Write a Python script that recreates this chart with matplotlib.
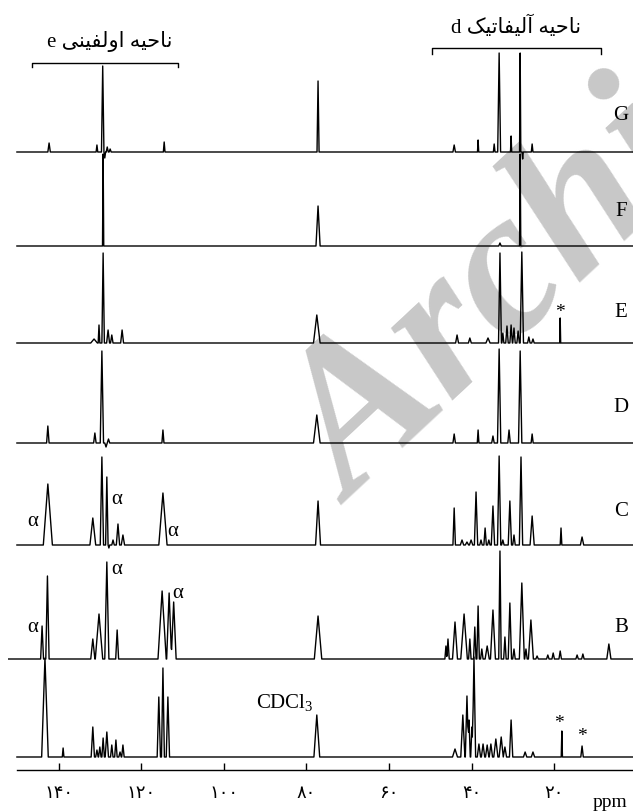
import numpy as np
import matplotlib
matplotlib.use("Agg")
import matplotlib.pyplot as plt

plt.rcParams["font.family"] = ["Liberation Serif", "DejaVu Sans"]
plt.rcParams["mathtext.fontset"] = "custom"
plt.rcParams["mathtext.rm"] = "Liberation Serif"

# --- spectra: peak position (ppm), height, half width (ppm) ---
A_ppm = [143.4, 139.0, 131.8, 130.8, 130.1, 129.3, 128.4, 127.2, 126.2, 125.2, 124.5,
         115.8, 114.8, 113.6, 77.5, 44.0, 42.1, 41.1, 40.6, 39.9, 39.4, 38.2, 37.2,
         36.2, 35.3, 34.1, 32.8, 31.9, 30.4, 27.0, 25.1, 18.1, 13.2]
A_h = [99, 9, 30, 7, 10, 19, 25, 12, 17, 5, 12, 60, 89, 60, 42, 8, 42, 61, 37, 30, 100,
       13, 13, 12, 13, 18, 20, 10, 37, 5, 5, 26, 11]
A_w = [0.8, 0.2, 0.4, 0.3, 0.3, 0.3, 0.4, 0.3, 0.3, 0.3, 0.3, 0.4, 0.35, 0.4, 0.7, 0.6,
       0.5, 0.4, 0.3, 0.3, 0.4, 0.4, 0.4, 0.4, 0.4, 0.5, 0.5, 0.4, 0.4, 0.4, 0.4, 0.15, 0.3]

B_ppm = [144.1, 142.8, 131.8, 130.3, 128.4, 125.9, 115.0, 113.3, 112.2, 77.2, 46.2, 45.7,
         44.0, 41.8, 40.4, 39.2, 38.4, 37.5, 36.2, 34.8, 33.1, 31.9, 30.7, 29.7, 27.8,
         26.8, 25.6, 24.1, 21.5, 20.2, 18.5, 14.4, 13.0, 6.7]
B_h = [33, 83, 20, 45, 97, 29, 68, 66, 57, 43, 13, 20, 37, 45, 20, 32, 53, 10, 13, 49,
       108, 22, 56, 10, 76, 10, 39, 3, 4, 6, 8, 4, 5, 15]
B_w = [0.35, 0.4, 0.5, 0.9, 0.5, 0.35, 1.0, 0.6, 0.6, 0.9, 0.25, 0.3, 0.6, 0.8, 0.3, 0.3,
       0.3, 0.3, 0.5, 0.6, 0.3, 0.3, 0.4, 0.3, 0.6, 0.3, 0.6, 0.3, 0.3, 0.3, 0.3, 0.3, 0.3, 0.5]

C_ppm = [142.7, 131.8, 129.6, 128.4, 127.9, 126.9, 125.7, 124.5, 114.8, 77.2, 44.2, 42.3,
         41.1, 40.1, 38.9, 37.7, 36.7, 35.8, 34.8, 33.3, 32.4, 30.7, 29.7, 28.0, 25.3,
         18.3, 13.2]
C_h = [61, 27, 88, 68, -3, 5, 21, 10, 52, 44, 37, 5, 3, 5, 53, 5, 17, 5, 39, 89, 5, 44,
       10, 88, 29, 17, 8]
C_w = [1.1, 0.7, 0.4, 0.3, 0.2, 0.3, 0.4, 0.4, 1.0, 0.6, 0.3, 0.4, 0.4, 0.4, 0.4, 0.3,
       0.3, 0.3, 0.4, 0.4, 0.3, 0.4, 0.3, 0.4, 0.5, 0.2, 0.4]

D_ppm = [142.7, 131.3, 129.6, 128.6, 128.0, 114.8, 77.5, 44.2, 38.4, 34.8, 33.3, 30.9, 28.2, 25.3]
D_h = [17, 10, 92, -4, 4, 13, 28, 9, 13, 7, 94, 13, 92, 9]
D_w = [0.3, 0.3, 0.4, 0.3, 0.3, 0.25, 0.8, 0.3, 0.2, 0.3, 0.4, 0.3, 0.4, 0.25]

E_ppm = [131.5, 130.3, 129.3, 128.1, 127.2, 124.7, 77.5, 43.5, 40.4, 36.0, 33.1, 32.4,
         31.4, 30.4, 29.7, 28.7, 27.8, 26.1, 25.1, 18.5]
E_h = [4, 18, 90, 13, 8, 13, 28, 8, 5, 5, 90, 10, 17, 18, 15, 12, 91, 6, 4, 25]
E_w = [0.8, 0.2, 0.3, 0.35, 0.3, 0.35, 0.8, 0.35, 0.35, 0.5, 0.35, 0.25, 0.3, 0.3, 0.3,
       0.3, 0.4, 0.3, 0.3, 0.12]

F_ppm = [129.3, 77.2, 33.1, 28.2]
F_h = [92, 40, 3, 92]
F_w = [0.15, 0.5, 0.3, 0.15]

G_ppm = [142.4, 130.8, 129.4, 128.9, 128.3, 127.6, 114.5, 77.2, 44.2, 38.4, 34.5, 33.3,
         30.4, 28.2, 27.6, 25.3]
G_h = [9, 7, 86, -6, 5, 3, 10, 71, 7, 12, 8, 99, 16, 99, -7, 8]
G_w = [0.3, 0.2, 0.3, 0.2, 0.25, 0.25, 0.2, 0.25, 0.3, 0.15, 0.2, 0.35, 0.15, 0.15, 0.15, 0.2]

trace_names = ["", "B", "C", "D", "E", "F", "G"]
xticks = [140, 120, 100, 80, 60, 40, 20]

fa_digits = str.maketrans("0123456789", "۰۱۲۳۴۵۶۷۸۹")
# Persian labels in visual (presentation-form) order
olefin_label = "e " + "\ufbfd\ufee8\ufbff\ufed4\ufedf\ufeed\ufe8d" + " " + "\ufeea\ufbff\ufea3\ufe8e\ufee7"
aliph_label = "d " + "\ufb8f\ufbff\ufe97\ufe8e\ufed4\ufbff\ufedf\ufe81" + " " + "\ufeea\ufbff\ufea3\ufe8e\ufee7"


def spectrum(ppm, h, w, start, stop=0.85):
    pts = {start, stop}
    for p, ww in zip(ppm, w):
        pts.update([p - ww, p, p + ww])
    x = np.array(sorted(pts, reverse=True))
    y = np.zeros_like(x)
    for p, hh, ww in zip(ppm, h, w):
        y += hh * np.clip(1 - np.abs(x - p) / ww, 0, None)
    return x, y


W, H = 633, 812
fig = plt.figure(figsize=(W / 100, H / 100), dpi=100)
ax = fig.add_axes([8 / W, 1 - 771 / H, 1 - 8 / W, 771 / H])
ax.set_xlim(152.36, 0.85)
ax.set_ylim(0, 771)

# watermark behind the traces
ax.text(352 / W, 1 - 505 / H, "Archive of SID", transform=fig.transFigure, rotation=43,
        rotation_mode="anchor", ha="left", va="baseline", fontsize=150,
        fontweight="bold", fontstyle="italic", color="#c8c8c8", zorder=0, clip_on=True)

traces = [(A_ppm, A_h, A_w), (B_ppm, B_h, B_w), (C_ppm, C_h, C_w), (D_ppm, D_h, D_w),
          (E_ppm, E_h, E_w), (F_ppm, F_h, F_w), (G_ppm, G_h, G_w)]
offsets = [13, 111, 225, 327, 427, 524, 618]
label_y = [0, 144, 259, 364, 459, 559, 656]

for i, (p, h, w) in enumerate(traces):
    start = 152.36 if i == 1 else 150.2
    x, y = spectrum(p, h, w, start)
    ax.plot(x, y + offsets[i], color="black", lw=1.0, zorder=2)
    if trace_names[i]:
        ax.text(3.8, label_y[i], trace_names[i], ha="center", va="center", fontsize=15)

# alpha marks
for px, py in [(146.3, 249), (125.9, 271), (112.4, 239), (146.3, 144), (125.9, 201), (111.2, 178)]:
    ax.text(px, py, "α", ha="center", va="center", fontsize=15)

ax.text(78.3, 68, r"CDCl$_3$", ha="right", va="center", fontsize=15)
for px, py in [(18.5, 459), (18.8, 47), (13.2, 34)]:
    ax.text(px, py, "*", ha="center", va="center", fontsize=14)

# region brackets
ax.plot([146.5, 146.5, 111.2, 111.2], [703, 707, 707, 703], color="black", lw=1.0, clip_on=False)
ax.plot([49.6, 49.6, 8.6, 8.6], [716, 722, 722, 716], color="black", lw=1.0, clip_on=False)
ax.text(127.8, 729, olefin_label, ha="center", va="center", fontsize=15)
ax.text(29.1, 744, aliph_label, ha="center", va="center", fontsize=15)

for s in ["top", "left", "right"]:
    ax.spines[s].set_visible(False)
ax.spines["bottom"].set_bounds(150.2, 0.85)
ax.spines["bottom"].set_linewidth(1.0)
ax.set_yticks([])
ax.set_xticks(xticks)
ax.set_xticklabels([str(t).translate(fa_digits) for t in xticks], fontsize=13)
ax.tick_params(axis="x", direction="in", length=5, width=1.0, pad=10)
ax.text(6.4, -32, "ppm", ha="center", va="center", fontsize=14, clip_on=False)

fig.savefig("out.png", dpi=100)
